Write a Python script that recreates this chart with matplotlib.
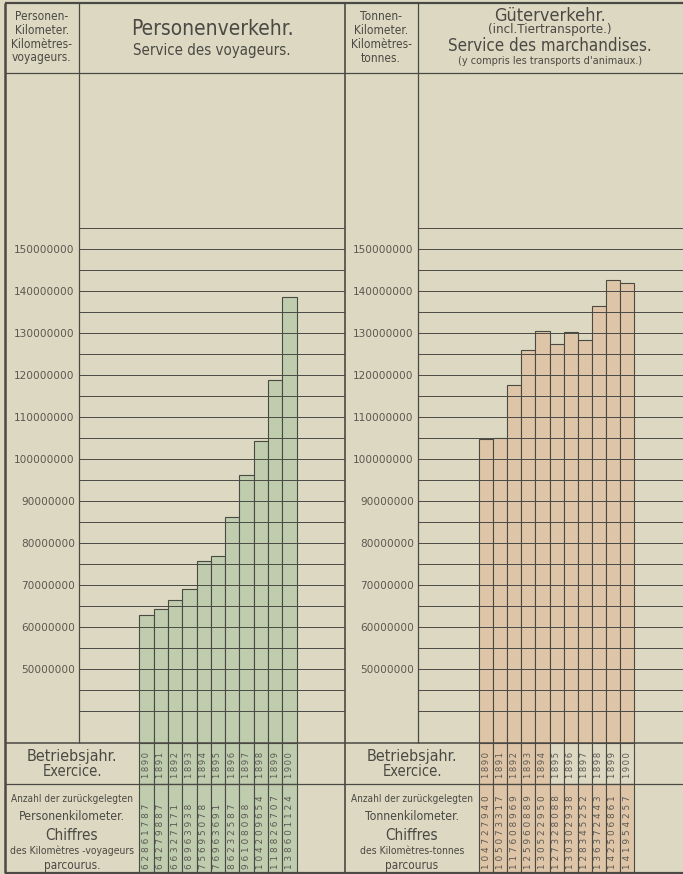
import numpy as np
import matplotlib
matplotlib.use('Agg')
from matplotlib import pyplot as plt
from matplotlib.lines import Line2D

# data
years = [1890, 1891, 1892, 1893, 1894, 1895, 1896, 1897, 1898, 1899, 1900]
personen_km = [62861787, 64279887, 66327171, 68963938, 75695078, 76963691,
               86232587, 96108098, 104209654, 118826707, 138601124]
tonnen_km = [104727940, 105073317, 117608969, 125960889, 130522950, 127328088,
             130302938, 128345252, 136372443, 142506861, 141954257]
tick_values = list(range(50000000, 150000001, 10000000))
grid_values = list(range(40000000, 155000001, 5000000))

W, H = 683, 874
PAPER = '#dcd8c1'
INK = '#4a4944'
NUM = '#5a5852'
GREEN = '#bfccae'
TAN = '#dfc5a7'

fig = plt.figure(figsize=(W / 100, H / 100), dpi=100, facecolor=PAPER)


def box(x0, y0, x1, y1):
    '''pixel box (top-left origin) -> figure rect'''
    return [x0 / W, 1 - y1 / H, (x1 - x0) / W, (y1 - y0) / H]


def line(x0, y0, x1, y1, lw=0.9):
    fig.add_artist(Line2D([x0 / W, x1 / W], [1 - y0 / H, 1 - y1 / H],
                          color=INK, lw=lw, solid_capstyle='butt'))


def ftext(x, y, s, size, **kw):
    fig.text(x / W, 1 - y / H, s, fontsize=size, ha='center', va='center',
             color=INK, family='DejaVu Sans', fontstretch='condensed', **kw)


# vertical scale: 150 Mio at px 249, 4.2 px per Mio
def val_at(py):
    return 150e6 - (py - 249) / 4.2 * 1e6


CHART_TOP, CHART_BOT, TAB_MID, TAB_BOT = 73, 743, 784, 873


def panel(lab_x0, chart_x0, chart_x1, bar_x0, bar_w, values, color, year_fill):
    x = np.arange(len(values))

    # chart part
    ax = fig.add_axes(box(chart_x0, CHART_TOP, chart_x1, CHART_BOT))
    ax.set_facecolor('none')
    off = (bar_x0 - chart_x0) / bar_w
    ax.set_xlim(-0.5 - off, -0.5 - off + (chart_x1 - chart_x0) / bar_w)
    ax.set_ylim(val_at(CHART_BOT), val_at(CHART_TOP))
    ax.bar(x, values, width=1, color=color, edgecolor=INK, lw=0.8)
    ax.set_yticks(tick_values)
    ax.set_yticklabels([str(v) for v in tick_values])
    ax.set_yticks(grid_values, minor=True)
    ax.set_xticks([])
    ax.tick_params(which='both', length=0, pad=3, labelsize=7.6,
                   labelcolor=NUM)
    ax.set_axisbelow(False)
    ax.grid(which='both', axis='y', color=INK, lw=0.7)
    for s in ax.spines.values():
        s.set_visible(False)

    # table part below the chart
    tx = fig.add_axes(box(lab_x0, CHART_BOT, chart_x1, TAB_BOT))
    tx.set_facecolor('none')
    toff = (bar_x0 - lab_x0) / bar_w
    tx.set_xlim(-0.5 - toff, -0.5 - toff + (chart_x1 - lab_x0) / bar_w)
    tx.set_ylim(TAB_BOT - CHART_BOT, 0)
    mid = TAB_MID - CHART_BOT
    tx.bar(x, mid, bottom=0, width=1, color=year_fill, edgecolor=INK, lw=0.8)
    tx.bar(x, TAB_BOT - TAB_MID, bottom=mid, width=1, color=color,
           edgecolor=INK, lw=0.8)
    for xi, yr, v in zip(x, years, values):
        tx.text(xi, mid - 6, '\u2009'.join(str(yr)), rotation=90, ha='center',
                va='bottom', fontsize=6, color=NUM)
        tx.text(xi, TAB_BOT - CHART_BOT - 4, ' '.join(str(v)), rotation=90,
                ha='center', va='bottom', fontsize=6.4, color=NUM)
    tx.axis('off')


panel(5, 79, 345, 139.3, 14.3, personen_km, GREEN, [GREEN] * len(years))
panel(345, 418, 683, 479, 14.1, tonnen_km, TAN,
      [TAN if y < 1895 else PAPER for y in years])

# frame
line(5, 3, 683, 3, lw=1.6)
line(5, TAB_BOT, 683, TAB_BOT, lw=1.6)
line(5, 3, 5, TAB_BOT, lw=1.8)
line(345, 3, 345, TAB_BOT, lw=1.2)
line(5, CHART_TOP, 683, CHART_TOP)
line(79, 3, 79, CHART_BOT)
line(418, 3, 418, CHART_BOT)
line(5, CHART_BOT, 683, CHART_BOT, lw=1.1)
line(5, TAB_MID, 683, TAB_MID)

# headers
for yy, s in zip([16, 30, 44, 58],
                 ['Personen-', 'Kilometer.', 'Kilomètres-', 'voyageurs.']):
    ftext(42, yy, s, 8.6)
ftext(212, 29, 'Personenverkehr.', 15)
ftext(212, 50, 'Service des voyageurs.', 10.8)

for yy, s in zip([16, 30, 44, 58],
                 ['Tonnen-', 'Kilometer.', 'Kilomètres-', 'tonnes.']):
    ftext(381, yy, s, 8.6)
ftext(550, 16, 'Güterverkehr.', 13)
ftext(550, 30, '(incl.Tiertransporte.)', 9.5)
ftext(550, 46, 'Service des marchandises.', 12.2)
ftext(550, 61, "(y compris les transports d'animaux.)", 7.8)

# table labels
for cx, kind, desc in [(72, 'Personenkilometer.', 'des Kilomètres -voyageurs'),
                       (412, 'Tonnenkilometer.', 'des Kilomètres-tonnes')]:
    ftext(cx, 757, 'Betriebsjahr.', 11.5)
    ftext(cx, 772, 'Exercice.', 10.5)
    ftext(cx, 799, 'Anzahl der zurückgelegten', 7.2)
    ftext(cx, 817, kind, 8.8)
    ftext(cx, 836, 'Chiffres', 11)
    ftext(cx, 851, desc, 7.5)
    ftext(cx, 865, 'parcourus.' if cx < 300 else 'parcourus', 8.5)

fig.savefig('out.png', dpi=100, facecolor=PAPER)
